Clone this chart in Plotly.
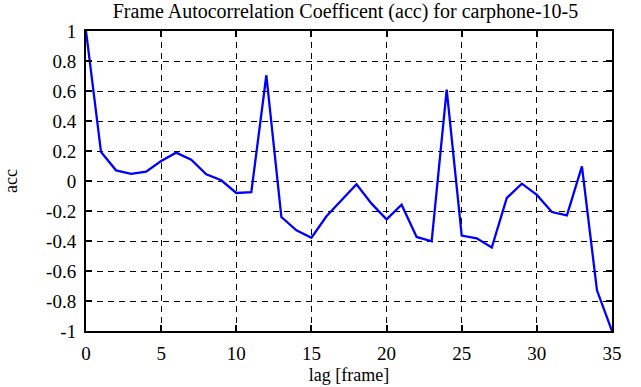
import plotly.graph_objects as go

lags = list(range(36))
acc = [1.0, 0.193, 0.071, 0.047, 0.062, 0.133, 0.189, 0.142, 0.045, 0.005,
       -0.08, -0.075, 0.705, -0.24, -0.329, -0.378, -0.235, -0.129, -0.022, -0.151,
       -0.255, -0.158, -0.373, -0.402, 0.609, -0.364, -0.382, -0.444, -0.113, -0.018,
       -0.093, -0.207, -0.229, 0.097, -0.729, -1.0]

x_ticks = [0, 5, 10, 15, 20, 25, 30, 35]
y_ticks = [1, 0.8, 0.6, 0.4, 0.2, 0, -0.2, -0.4, -0.6, -0.8, -1]
y_tick_text = ["1", "0.8", "0.6", "0.4", "0.2", "0", "-0.2", "-0.4", "-0.6", "-0.8", "-1"]

font = "Liberation Serif"

fig = go.Figure()
fig.add_trace(go.Scatter(x=lags, y=acc, mode="lines",
                         line=dict(color="#0000ff", width=2.3), showlegend=False,
                         hoverinfo="skip"))

fig.update_xaxes(
    range=[0, 35], tickvals=x_ticks, automargin=False,
    showline=True, linecolor="black", linewidth=2, mirror="ticks",
    ticks="inside", ticklen=6, tickwidth=2, tickcolor="black",
    showgrid=True, gridcolor="black", gridwidth=1, griddash="6px,5px",
    zeroline=False, ticklabelstandoff=4,
    tickfont=dict(family=font, size=19, color="black"),
    title=dict(text="lag [frame]", font=dict(family=font, size=18, color="black"), standoff=6),
)
fig.update_yaxes(
    range=[-1, 1], tickvals=y_ticks, ticktext=y_tick_text, automargin=False,
    showline=True, linecolor="black", linewidth=2, mirror="ticks",
    ticks="inside", ticklen=6, tickwidth=2, tickcolor="black",
    showgrid=True, gridcolor="black", gridwidth=1, griddash="6px,5px",
    zeroline=False, ticklabelstandoff=4,
    tickfont=dict(family=font, size=19, color="black"),
    title=dict(text="acc", font=dict(family=font, size=18, color="black"), standoff=24),
)

fig.update_layout(
    width=641, height=387,
    margin=dict(l=86, r=29, t=31, b=56),
    font=dict(family=font, size=18, color="black"),
    plot_bgcolor="white", paper_bgcolor="white",
    title=dict(text="Frame Autocorrelation Coefficent (acc) for carphone-10-5",
               font=dict(family=font, size=20, color="black"),
               x=0.539, xanchor="center", y=0.99, yanchor="top"),
)

fig.write_html("out.html", config={"displayModeBar": False},
               post_script="document.body.style.margin='0';")
